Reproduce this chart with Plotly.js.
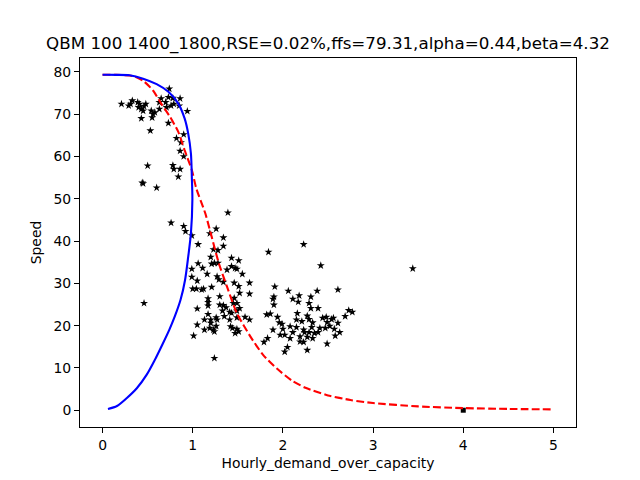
<!DOCTYPE html>
<html>
<head>
<meta charset="utf-8">
<script src="https://cdn.plot.ly/plotly-3.0.1.min.js"></script>
<style>
  html, body { margin: 0; padding: 0; background: #fff; }
  #graphDiv { width: 640px; height: 480px; }
</style>
</head>
<body>
<div id="graphDiv"></div>
<script>
// observed points: hourly demand / capacity vs speed
const obs_ratio = [
  0.21,0.33,0.29,0.31,0.39,0.41,0.40,0.43,0.46,0.48,0.45,0.43,0.54,0.56,0.55,0.58,0.63,0.63,0.65,0.70,
  0.74,0.73,0.78,0.86,0.71,0.76,0.79,0.85,0.94,0.53,0.73,0.82,0.90,0.87,0.86,0.90,0.50,0.78,0.79,0.86,
  0.84,0.44,0.45,0.60,0.46,
  0.76,0.90,0.92,0.99,1.39,1.06,1.19,1.26,1.34,1.34,1.23,1.28,1.20,1.24,1.21,1.28,1.43,1.51,1.43,1.47,
  1.38,1.49,0.99,1.11,1.06,1.16,1.55,0.99,1.05,1.27,1.29,1.34,1.46,1.63,1.51,1.00,1.04,1.10,1.12,1.21,
  1.52,1.63,1.30,1.46,1.17,1.17,1.17,1.30,1.34,1.37,1.45,1.49,1.52,1.05,1.33,1.41,1.43,1.49,1.17,1.35,
  1.58,1.63,1.13,1.26,1.27,1.20,1.41,1.49,1.05,1.20,1.26,1.42,1.19,1.23,1.13,1.44,1.49,1.47,1.51,1.24,
  1.01,1.24,
  2.23,1.84,2.42,2.61,2.38,2.06,2.18,2.11,2.31,2.17,2.29,1.91,1.90,1.89,1.90,2.31,2.39,2.73,2.77,2.69,
  1.82,1.86,2.16,2.27,2.29,2.15,1.94,2.44,2.48,2.54,2.56,2.61,1.96,1.99,2.21,2.33,2.49,2.00,2.08,2.15,
  2.23,2.32,2.41,2.47,2.52,2.57,2.11,2.24,2.29,2.35,2.39,2.63,1.89,1.97,2.02,2.08,2.19,2.27,2.33,2.58,
  1.83,1.79,2.19,2.23,2.49,2.05,2.02,2.27,3.44
];
const obs_speed = [
  72.4,73.2,72.0,72.4,72.8,72.4,71.6,71.2,71.9,72.4,70.8,69.0,70.8,70.0,69.2,70.4,72.8,71.2,73.7,72.8,
  76.0,74.0,73.8,73.7,71.6,72.0,72.4,72.0,70.7,66.1,67.9,64.3,65.2,63.3,61.3,60.0,57.8,57.9,57.0,57.0,
  55.2,53.8,53.6,52.6,25.3,
  44.3,43.5,42.3,41.3,46.7,39.2,41.8,42.9,40.8,38.8,38.0,37.8,36.2,34.8,34.6,34.8,36.0,35.4,34.0,33.6,
  33.2,33.4,33.4,33.6,34.7,32.2,32.2,31.5,30.6,31.6,30.9,30.3,30.1,30.1,29.3,28.7,28.7,28.5,28.7,29.1,
  27.7,27.5,26.9,26.5,26.4,25.5,24.7,24.9,24.8,24.3,25.3,25.3,24.1,24.0,23.5,23.2,23.0,23.5,22.7,22.2,
  22.0,21.4,21.4,21.9,21.4,21.4,21.4,21.9,20.2,20.6,19.9,19.8,19.4,19.0,19.0,19.4,19.2,18.2,18.6,18.6,
  17.6,12.3,
  39.2,37.4,34.2,28.5,28.2,28.2,27.1,26.3,26.8,25.6,25.3,29.2,26.8,26.3,24.9,24.1,24.1,23.6,23.2,22.2,
  22.6,22.8,22.9,22.3,21.5,21.4,22.0,21.8,22.0,21.5,21.8,20.6,20.7,20.4,21.0,20.7,20.8,19.2,19.8,19.6,
  19.0,19.6,19.4,19.4,19.9,19.2,18.4,18.4,18.4,18.2,18.4,18.4,19.0,17.8,17.8,17.0,17.4,17.3,17.0,17.6,
  17.0,16.1,16.2,16.1,15.7,14.9,13.8,14.2,33.5
];

// the single square marker
const sq_ratio = [4.0];
const sq_speed = [0.0];

// fitted speed curve (red dashed)
const fit_ratio = [0, 0.15, 0.34, 0.45, 0.56, 0.65, 0.75, 0.84, 0.91, 0.99, 1.04, 1.14, 1.21, 1.29, 1.38,
                   1.49, 1.64, 1.78, 1.93, 2.1, 2.25, 2.5, 2.75, 3.0, 3.5, 4.0, 4.5, 5.0];
const fit_speed = [79.31, 79.3, 79.0, 77.9, 75.6, 72.5, 69.3, 65.8, 61.5, 56.8, 52.4, 46.5, 41.0, 34.7, 29.2,
                   22.9, 17.4, 13.1, 9.9, 7.0, 5.3, 3.5, 2.4, 1.7, 0.9, 0.5, 0.3, 0.2];

// blue curve
const fd_ratio = [0.06, 0.16, 0.27, 0.38, 0.49, 0.58, 0.665, 0.74, 0.80, 0.865, 0.915, 0.95, 0.98, 0.996,
                  0.99, 0.98, 0.95, 0.91, 0.84, 0.73, 0.60, 0.45, 0.30, 0.15, 0.0];
const fd_speed = [0.3, 1.0, 2.9, 5.2, 8.4, 11.9, 15.6, 19.0, 22.1, 26.1, 30.8, 36.3, 41.8, 49.7,
                  55.2, 60.7, 65.4, 69.0, 72.5, 75.3, 77.1, 78.4, 79.2, 79.3, 79.31];

const titleText = "QBM 100 1400_1800,RSE=0.02%,ffs=79.31,alpha=0.44,beta=4.32";
const font = "DejaVu Sans, sans-serif";

function onPageLoad() {
    const traces = [
        {
            x: obs_ratio, y: obs_speed,
            mode: "markers", type: "scatter",
            marker: {symbol: "star", size: 6, color: "black"},
            hoverinfo: "skip"
        },
        {
            x: sq_ratio, y: sq_speed,
            mode: "markers", type: "scatter",
            marker: {symbol: "square", size: 5, color: "black"}
        },
        {
            x: fit_ratio, y: fit_speed,
            mode: "lines", type: "scatter",
            line: {color: "red", width: 2.1, dash: "7.7px,3.3px", shape: "spline", smoothing: 0.6}
        },
        {
            x: fd_ratio, y: fd_speed,
            mode: "lines", type: "scatter",
            line: {color: "blue", width: 2.1, shape: "spline", smoothing: 0.8}
        }
    ];
    const axisBase = {
        showgrid: false, zeroline: false,
        showline: true, mirror: true, linecolor: "black", linewidth: 1,
        ticks: "outside", ticklen: 5, tickwidth: 1, tickcolor: "black",
        tickfont: {family: font, size: 13.9, color: "black"}
    };
    const layout = {
        width: 640, height: 480,
        margin: {l: 80, r: 64, t: 57.6, b: 52.8, pad: 0},
        paper_bgcolor: "white", plot_bgcolor: "white",
        showlegend: false,
        title: {
            text: titleText,
            font: {family: font, size: 16.7, color: "black"},
            xref: "paper", x: 0.5, xanchor: "center",
            yref: "container", y: 1 - 43 / 480, yanchor: "middle"
        },
        xaxis: Object.assign({}, axisBase, {
            range: [-0.25, 5.25],
            tickvals: [0, 1, 2, 3, 4, 5],
            title: {text: "Hourly_demand_over_capacity", font: {family: font, size: 13.9, color: "black"}, standoff: 6}
        }),
        yaxis: Object.assign({}, axisBase, {
            range: [-3.97, 83.28],
            tickvals: [0, 10, 20, 30, 40, 50, 60, 70, 80],
            title: {text: "Speed", font: {family: font, size: 13.9, color: "black"}, standoff: 8}
        })
    };
    Plotly.newPlot("graphDiv", traces, layout, {displayModeBar: false, staticPlot: true});
}
onPageLoad();
</script>
</body>
</html>
